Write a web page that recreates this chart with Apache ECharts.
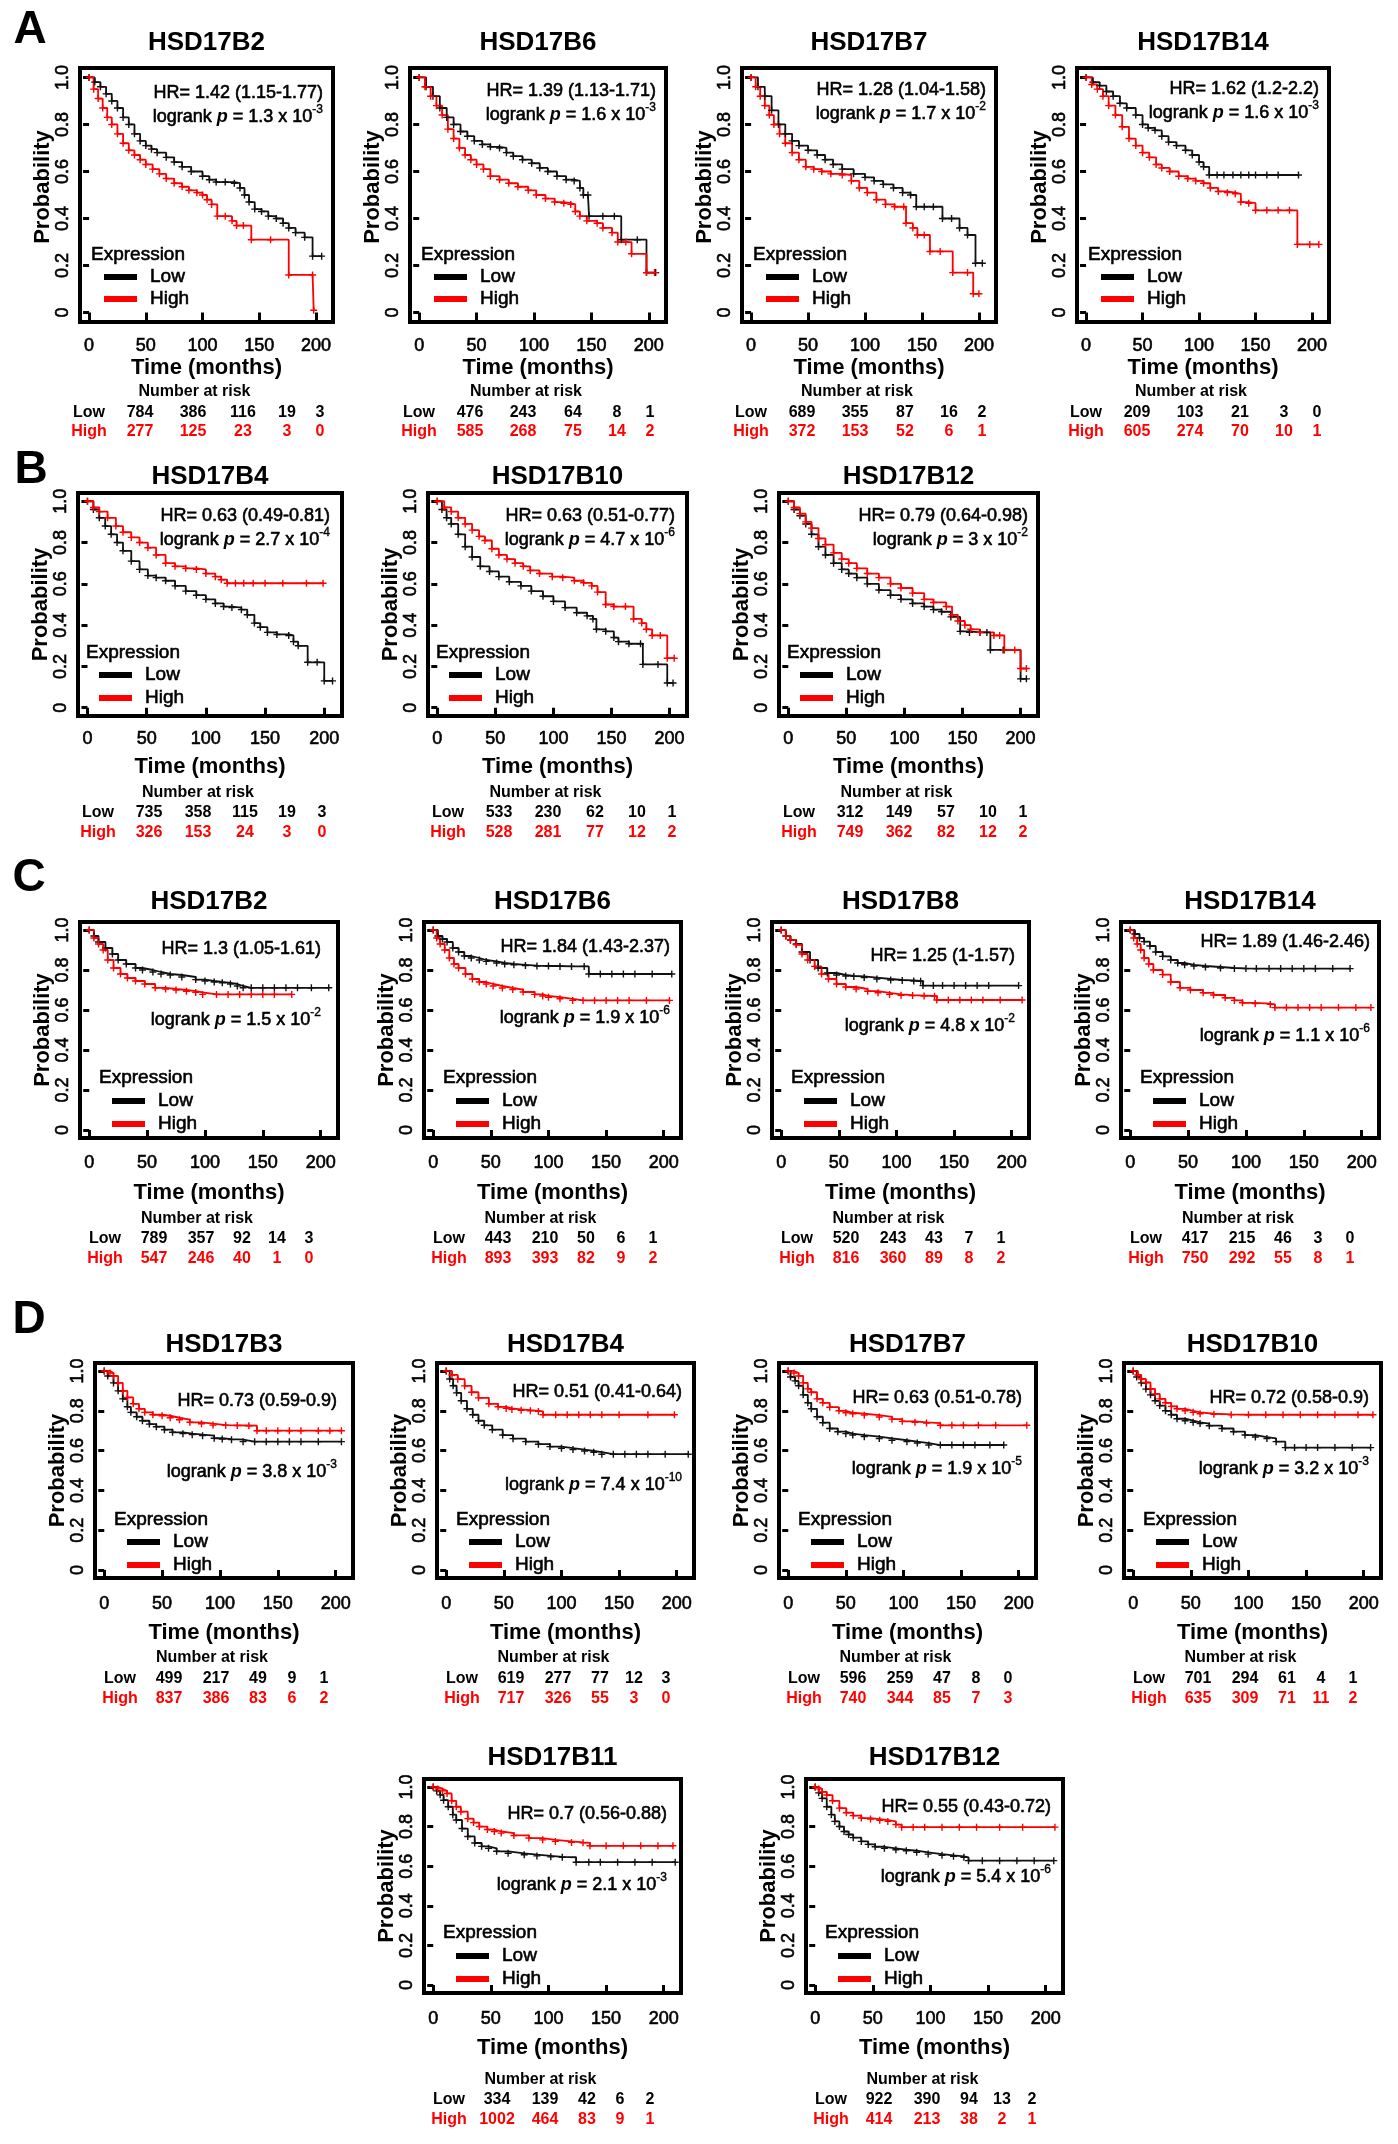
<!DOCTYPE html>
<html>
<head>
<meta charset="utf-8">
<title>HSD17B survival curves</title>
<script src="https://cdn.jsdelivr.net/npm/echarts@6/dist/echarts.min.js"></script>
<style>
  body { margin: 0; background: #fff; }
  #main { width: 1398px; height: 2144px; }
</style>
</head>
<body>
<div id="main"></div>
<script>
// ---- data ----
var titles = ['HSD17B2','HSD17B6','HSD17B7','HSD17B14','HSD17B4','HSD17B10','HSD17B12',
              'HSD17B2','HSD17B6','HSD17B8','HSD17B14','HSD17B3','HSD17B4','HSD17B7','HSD17B10',
              'HSD17B11','HSD17B12'];
var hrTexts = ['1.42 (1.15-1.77)','1.39 (1.13-1.71)','1.28 (1.04-1.58)','1.62 (1.2-2.2)',
               '0.63 (0.49-0.81)','0.63 (0.51-0.77)','0.79 (0.64-0.98)',
               '1.3 (1.05-1.61)','1.84 (1.43-2.37)','1.25 (1-1.57)','1.89 (1.46-2.46)',
               '0.73 (0.59-0.9)','0.51 (0.41-0.64)','0.63 (0.51-0.78)','0.72 (0.58-0.9)',
               '0.7 (0.56-0.88)','0.55 (0.43-0.72)'];
var pMant = ['1.3','1.6','1.7','1.6','2.7','4.7','3','1.5','1.9','4.8','1.1','3.8','7.4','1.9','3.2','2.1','5.4'];
var pExp = ['-3','-3','-2','-3','-4','-6','-2','-2','-6','-2','-6','-3','-10','-5','-3','-3','-6'];
var riskLow = [[784,386,116,19,3],[476,243,64,8,1],[689,355,87,16,2],[209,103,21,3,0],
               [735,358,115,19,3],[533,230,62,10,1],[312,149,57,10,1],
               [789,357,92,14,3],[443,210,50,6,1],[520,243,43,7,1],[417,215,46,3,0],
               [499,217,49,9,1],[619,277,77,12,3],[596,259,47,8,0],[701,294,61,4,1],
               [334,139,42,6,2],[922,390,94,13,2]];
var riskHigh = [[277,125,23,3,0],[585,268,75,14,2],[372,153,52,6,1],[605,274,70,10,1],
                [326,153,24,3,0],[528,281,77,12,2],[749,362,82,12,2],
                [547,246,40,1,0],[893,393,82,9,2],[816,360,89,8,2],[750,292,55,8,1],
                [837,386,83,6,2],[717,326,55,3,0],[740,344,85,7,3],[635,309,71,11,2],
                [1002,464,83,9,1],[414,213,38,2,1]];
var xTicks = [0, 50, 100, 150, 200];
var yTicks = [0, 0.2, 0.4, 0.6, 0.8, 1.0];

// survival curves [months, probability]
var a1Low = [[0,1],[5,0.98],[10,0.96],[15,0.93],[20,0.9],[25,0.87],[30,0.83],[35,0.8],[40,0.76],[45,0.73],[50,0.71],[55,0.695],[60,0.68],[68,0.66],[75,0.64],[82,0.62],[90,0.6],[100,0.58],[106,0.565],[112,0.555],[120,0.555],[128,0.55],[133,0.53],[137,0.5],[141,0.47],[146,0.44],[152,0.43],[158,0.41],[165,0.4],[171,0.38],[176,0.36],[182,0.34],[190,0.32],[197,0.24],[205,0.24]];
var a1High = [[0,1],[4,0.95],[8,0.91],[12,0.87],[16,0.83],[20,0.8],[25,0.76],[30,0.72],[35,0.69],[40,0.67],[45,0.65],[50,0.63],[56,0.61],[62,0.59],[68,0.57],[75,0.55],[82,0.535],[88,0.52],[95,0.51],[100,0.5],[104,0.48],[108,0.46],[113,0.41],[120,0.41],[126,0.39],[130,0.37],[136,0.37],[143,0.31],[160,0.31],[176,0.16],[197,0.16],[198,0.01]];
var a2Low = [[0,1],[6,0.96],[12,0.92],[18,0.87],[24,0.83],[30,0.8],[36,0.77],[42,0.75],[48,0.73],[55,0.715],[62,0.705],[70,0.7],[76,0.68],[82,0.665],[90,0.65],[98,0.635],[105,0.615],[112,0.6],[120,0.58],[128,0.565],[135,0.56],[140,0.53],[143,0.5],[147,0.5],[148,0.41],[160,0.41],[170,0.41],[176,0.31],[190,0.31],[198,0.17],[206,0.17]];
var a2High = [[0,1],[5,0.96],[10,0.92],[15,0.88],[20,0.84],[25,0.78],[30,0.74],[35,0.7],[40,0.67],[45,0.65],[50,0.63],[56,0.61],[62,0.58],[70,0.565],[78,0.55],[86,0.535],[95,0.52],[102,0.5],[110,0.485],[118,0.47],[126,0.465],[132,0.46],[136,0.43],[140,0.41],[146,0.39],[155,0.38],[160,0.36],[168,0.34],[173,0.3],[180,0.3],[185,0.25],[198,0.17],[205,0.17]];
var a3Low = [[0,1],[6,0.96],[12,0.92],[18,0.86],[24,0.8],[30,0.76],[36,0.73],[42,0.71],[50,0.69],[58,0.67],[65,0.65],[72,0.63],[80,0.61],[90,0.59],[100,0.575],[108,0.56],[116,0.545],[125,0.53],[133,0.51],[140,0.5],[145,0.45],[152,0.45],[160,0.45],[168,0.4],[176,0.4],[183,0.36],[190,0.33],[197,0.21],[203,0.21]];
var a3High = [[0,1],[4,0.96],[8,0.92],[12,0.88],[16,0.84],[20,0.8],[25,0.76],[30,0.72],[36,0.68],[42,0.65],[48,0.62],[55,0.61],[62,0.6],[70,0.59],[80,0.585],[88,0.56],[95,0.53],[102,0.51],[110,0.48],[118,0.46],[126,0.45],[134,0.45],[136,0.38],[142,0.36],[146,0.33],[152,0.33],[157,0.26],[166,0.26],[177,0.17],[190,0.17],[195,0.08],[200,0.08]];
var a4Low = [[0,1],[6,0.98],[12,0.965],[18,0.94],[24,0.92],[30,0.89],[36,0.87],[44,0.84],[50,0.8],[55,0.785],[61,0.775],[67,0.75],[73,0.725],[80,0.71],[88,0.69],[94,0.67],[100,0.64],[104,0.62],[109,0.585],[116,0.585],[122,0.585],[130,0.585],[137,0.585],[144,0.585],[150,0.585],[160,0.585],[170,0.585],[188,0.585]];
var a4High = [[0,1],[5,0.97],[10,0.95],[15,0.92],[20,0.88],[26,0.84],[32,0.79],[38,0.74],[44,0.71],[50,0.68],[56,0.66],[62,0.63],[67,0.615],[74,0.6],[82,0.58],[90,0.57],[97,0.56],[104,0.55],[110,0.53],[117,0.515],[125,0.51],[132,0.505],[137,0.47],[144,0.465],[150,0.435],[160,0.435],[170,0.435],[180,0.435],[187,0.29],[198,0.29],[206,0.29]];
var b1Low = [[0,1],[5,0.96],[10,0.92],[15,0.88],[20,0.84],[25,0.8],[30,0.76],[37,0.71],[44,0.67],[51,0.64],[58,0.63],[66,0.615],[74,0.59],[83,0.565],[92,0.545],[100,0.525],[108,0.505],[115,0.49],[122,0.485],[130,0.475],[135,0.45],[141,0.41],[146,0.39],[152,0.365],[160,0.355],[170,0.35],[174,0.32],[178,0.3],[186,0.22],[194,0.22],[200,0.13],[207,0.13]];
var b1High = [[0,1],[5,0.97],[10,0.95],[17,0.92],[24,0.88],[30,0.85],[37,0.825],[44,0.8],[51,0.775],[58,0.74],[66,0.7],[74,0.685],[83,0.675],[92,0.67],[100,0.65],[108,0.635],[113,0.62],[118,0.603],[125,0.603],[132,0.603],[140,0.603],[150,0.603],[165,0.603],[185,0.603],[199,0.603]];
var b2Low = [[0,1],[4,0.96],[8,0.92],[12,0.89],[18,0.84],[24,0.78],[30,0.73],[37,0.685],[45,0.66],[53,0.635],[62,0.61],[72,0.59],[81,0.565],[91,0.54],[100,0.515],[110,0.485],[120,0.46],[129,0.445],[134,0.43],[137,0.38],[145,0.37],[152,0.34],[156,0.32],[165,0.31],[175,0.31],[177,0.21],[190,0.21],[198,0.12],[203,0.12]];
var b2High = [[0,1],[6,0.97],[12,0.95],[18,0.92],[24,0.89],[30,0.86],[36,0.83],[41,0.81],[47,0.77],[53,0.74],[60,0.72],[67,0.7],[74,0.685],[80,0.665],[88,0.65],[99,0.635],[108,0.63],[118,0.615],[126,0.605],[133,0.59],[138,0.56],[145,0.5],[152,0.49],[162,0.49],[169,0.43],[176,0.41],[180,0.38],[185,0.35],[192,0.35],[198,0.24],[204,0.24]];
var b3Low = [[0,1],[5,0.96],[10,0.93],[15,0.89],[20,0.84],[26,0.78],[32,0.74],[39,0.7],[46,0.67],[52,0.65],[59,0.63],[68,0.6],[78,0.57],[88,0.545],[97,0.525],[107,0.505],[117,0.49],[125,0.475],[132,0.465],[140,0.44],[148,0.37],[156,0.365],[165,0.365],[171,0.365],[174,0.28],[185,0.28],[200,0.14],[205,0.14]];
var b3High = [[0,1],[5,0.97],[10,0.94],[15,0.9],[20,0.87],[26,0.82],[32,0.79],[39,0.75],[46,0.72],[52,0.7],[59,0.675],[68,0.65],[78,0.63],[88,0.6],[97,0.58],[107,0.555],[117,0.525],[125,0.51],[136,0.49],[141,0.45],[146,0.42],[152,0.4],[157,0.38],[165,0.365],[177,0.35],[182,0.35],[186,0.28],[195,0.28],[200,0.19],[205,0.19]];
var c1Low = [[0,1],[4,0.97],[8,0.94],[14,0.91],[20,0.88],[25,0.85],[32,0.83],[40,0.81],[46,0.8],[55,0.79],[62,0.78],[70,0.775],[80,0.765],[92,0.752],[100,0.745],[108,0.74],[115,0.736],[122,0.73],[128,0.72],[133,0.711],[140,0.711],[150,0.711],[160,0.711],[170,0.711],[180,0.711],[192,0.711],[207,0.711]];
var c1High = [[0,1],[4,0.96],[8,0.93],[12,0.9],[16,0.85],[21,0.81],[27,0.78],[33,0.76],[40,0.745],[48,0.73],[57,0.711],[66,0.705],[75,0.7],[84,0.694],[92,0.688],[98,0.678],[110,0.678],[120,0.678],[130,0.678],[140,0.678],[150,0.678],[160,0.678],[175,0.678]];
var c2Low = [[0,1],[4,0.97],[8,0.955],[12,0.94],[17,0.91],[22,0.89],[27,0.87],[33,0.86],[40,0.85],[46,0.843],[55,0.835],[62,0.83],[70,0.826],[80,0.822],[90,0.82],[100,0.82],[110,0.818],[120,0.818],[131,0.818],[135,0.78],[145,0.78],[155,0.78],[165,0.78],[175,0.78],[190,0.78],[207,0.78]];
var c2High = [[0,1],[3,0.96],[6,0.93],[10,0.9],[14,0.86],[18,0.83],[22,0.81],[28,0.78],[34,0.755],[40,0.74],[46,0.73],[52,0.72],[60,0.71],[69,0.702],[78,0.69],[88,0.678],[95,0.67],[100,0.664],[110,0.656],[121,0.648],[130,0.648],[140,0.648],[150,0.648],[160,0.648],[170,0.648],[185,0.648],[205,0.648]];
var c3Low = [[0,1],[4,0.97],[8,0.95],[13,0.93],[18,0.89],[25,0.85],[32,0.81],[40,0.785],[48,0.775],[56,0.77],[63,0.768],[72,0.762],[83,0.755],[95,0.75],[105,0.748],[115,0.745],[121,0.744],[123,0.722],[132,0.722],[140,0.722],[150,0.722],[160,0.722],[170,0.722],[180,0.722],[206,0.722]];
var c3High = [[0,1],[4,0.97],[8,0.95],[13,0.926],[18,0.88],[23,0.85],[29,0.818],[35,0.78],[41,0.755],[48,0.73],[56,0.715],[65,0.705],[75,0.694],[84,0.686],[94,0.678],[104,0.674],[114,0.672],[124,0.67],[133,0.669],[135,0.65],[145,0.65],[155,0.65],[165,0.65],[175,0.65],[190,0.65],[209,0.65]];
var c4Low = [[0,1],[4,0.98],[8,0.96],[12,0.942],[17,0.92],[22,0.89],[28,0.868],[35,0.85],[41,0.835],[47,0.826],[55,0.82],[65,0.815],[78,0.81],[90,0.808],[100,0.807],[109,0.807],[120,0.807],[130,0.807],[140,0.807],[150,0.807],[160,0.807],[175,0.807],[190,0.807]];
var c4High = [[0,1],[3,0.96],[6,0.93],[9,0.9],[12,0.86],[16,0.83],[20,0.8],[28,0.777],[35,0.74],[43,0.711],[52,0.7],[63,0.686],[72,0.675],[82,0.661],[90,0.648],[97,0.636],[108,0.632],[121,0.628],[125,0.612],[135,0.612],[145,0.612],[155,0.612],[165,0.612],[180,0.612],[195,0.612],[208,0.612]];
var d1Low = [[0,1],[3,0.975],[8,0.94],[12,0.9],[16,0.86],[20,0.82],[23,0.792],[28,0.77],[33,0.75],[39,0.733],[45,0.72],[52,0.705],[59,0.692],[68,0.685],[76,0.68],[85,0.675],[95,0.662],[102,0.658],[110,0.655],[120,0.645],[130,0.645],[140,0.645],[150,0.645],[160,0.645],[170,0.645],[185,0.645],[205,0.645]];
var d1High = [[0,1],[5,0.99],[8,0.975],[12,0.94],[16,0.9],[20,0.867],[25,0.835],[30,0.81],[35,0.792],[42,0.78],[50,0.775],[57,0.765],[65,0.755],[74,0.742],[84,0.735],[94,0.728],[105,0.727],[115,0.726],[125,0.725],[132,0.7],[140,0.7],[150,0.7],[160,0.7],[170,0.7],[185,0.7],[195,0.7],[205,0.7]];
var d2Low = [[0,1],[3,0.96],[6,0.926],[9,0.89],[13,0.85],[18,0.81],[23,0.78],[28,0.75],[33,0.727],[40,0.705],[49,0.678],[58,0.66],[69,0.645],[80,0.632],[90,0.62],[100,0.612],[110,0.605],[120,0.598],[128,0.592],[135,0.582],[145,0.582],[155,0.582],[165,0.582],[175,0.582],[190,0.582],[210,0.582]];
var d2High = [[0,1],[5,0.98],[10,0.959],[16,0.925],[22,0.893],[28,0.865],[37,0.835],[45,0.82],[52,0.812],[57,0.807],[65,0.803],[73,0.8],[80,0.797],[84,0.78],[95,0.78],[105,0.78],[115,0.78],[125,0.78],[135,0.78],[150,0.78],[175,0.78],[198,0.78]];
var d3Low = [[0,1],[2,0.97],[6,0.95],[9,0.926],[13,0.88],[17,0.84],[20,0.81],[25,0.77],[30,0.74],[36,0.711],[43,0.695],[50,0.685],[56,0.678],[66,0.67],[79,0.661],[90,0.652],[103,0.645],[112,0.638],[122,0.628],[132,0.628],[142,0.628],[152,0.628],[162,0.628],[175,0.628],[187,0.628]];
var d3High = [[0,1],[5,0.99],[9,0.975],[13,0.94],[17,0.91],[20,0.893],[25,0.86],[30,0.84],[36,0.818],[44,0.8],[50,0.79],[56,0.785],[66,0.778],[79,0.769],[90,0.758],[99,0.747],[110,0.742],[120,0.738],[132,0.727],[142,0.727],[152,0.727],[165,0.727],[180,0.727],[207,0.727]];
var d4Low = [[0,1],[3,0.97],[7,0.94],[11,0.909],[15,0.88],[19,0.85],[23,0.826],[28,0.8],[33,0.78],[38,0.76],[45,0.75],[52,0.742],[58,0.736],[66,0.725],[77,0.711],[87,0.695],[97,0.678],[106,0.668],[116,0.661],[124,0.645],[132,0.615],[140,0.615],[150,0.615],[160,0.615],[175,0.615],[190,0.615],[206,0.615]];
var d4High = [[0,1],[4,0.98],[7,0.96],[11,0.942],[15,0.91],[19,0.885],[23,0.86],[28,0.84],[33,0.822],[38,0.81],[45,0.8],[52,0.792],[58,0.785],[70,0.782],[85,0.78],[100,0.78],[115,0.78],[130,0.78],[145,0.78],[160,0.78],[175,0.78],[195,0.78],[208,0.78]];
var e1Low = [[0,1],[3,0.98],[6,0.96],[9,0.933],[13,0.9],[17,0.86],[20,0.833],[25,0.79],[30,0.75],[36,0.717],[42,0.7],[48,0.69],[55,0.675],[65,0.665],[79,0.658],[90,0.652],[102,0.647],[112,0.645],[124,0.62],[135,0.62],[145,0.62],[160,0.62],[175,0.62],[190,0.62],[210,0.62]];
var e1High = [[0,1],[4,0.99],[8,0.98],[12,0.967],[16,0.93],[20,0.9],[24,0.875],[30,0.84],[35,0.82],[40,0.8],[47,0.785],[53,0.775],[59,0.767],[70,0.755],[83,0.742],[95,0.733],[106,0.725],[120,0.72],[130,0.718],[136,0.703],[150,0.703],[165,0.703],[180,0.703],[195,0.703],[208,0.703]];
var e2Low = [[0,1],[3,0.97],[6,0.942],[10,0.9],[14,0.86],[17,0.826],[21,0.8],[25,0.775],[29,0.76],[33,0.744],[40,0.725],[46,0.71],[52,0.698],[60,0.69],[70,0.683],[79,0.678],[88,0.67],[98,0.661],[110,0.655],[120,0.65],[129,0.645],[133,0.628],[145,0.628],[160,0.628],[175,0.628],[190,0.628],[207,0.628]];
var e2High = [[0,1],[3,0.99],[6,0.975],[10,0.959],[15,0.93],[21,0.893],[27,0.87],[33,0.855],[40,0.843],[48,0.838],[56,0.832],[63,0.826],[70,0.81],[75,0.797],[85,0.797],[95,0.797],[110,0.797],[125,0.797],[140,0.797],[160,0.797],[180,0.797],[208,0.797]];

var lowCurves = [a1Low,a2Low,a3Low,a4Low,b1Low,b2Low,b3Low,c1Low,c2Low,c3Low,c4Low,d1Low,d2Low,d3Low,d4Low,e1Low,e2Low];
var highCurves = [a1High,a2High,a3High,a4High,b1High,b2High,b3High,c1High,c2High,c3High,c4High,d1High,d2High,d3High,d4High,e1High,e2High];

// ---- layout (pixels) ----
var rows = {
  A: {top: 68,   bottom: 322,  titleY: 43,   legDx: 11, legDy: [-67,-45,-23], labMargin: 15, timeDy: 46, riskDy: [70,91,110],  riskLab: 9,  riskDx: [60,113,163,207,240], probDy: -8},
  B: {top: 493,  bottom: 716,  titleY: 477,  legDx: 8,  legDy: [-63,-41,-18], labMargin: 14, timeDy: 51, riskDy: [77,97,117],  riskLab: 20, riskDx: [71,120,167,209,244], probDy: 0},
  C: {top: 922,  bottom: 1138, titleY: 902,  legDx: 19, legDy: [-60,-37,-14], labMargin: 16, timeDy: 55, riskDy: [81,101,121], riskLab: 25, riskDx: [74,121,162,197,229], probDy: 0},
  D: {top: 1363, bottom: 1578, titleY: 1345, legDx: 19, legDy: [-58,-36,-13], labMargin: 17, timeDy: 55, riskDy: [80,101,121], riskLab: 25, riskDx: [74,121,163,197,229], probDy: 0},
  E: {top: 1779, bottom: 1993, titleY: 1758, legDx: 19, legDy: [-60,-37,-14], labMargin: 17, timeDy: 55, riskDy: [87,107,127], riskLab: 25, riskDx: [73,121,163,196,226], probDy: 0}
};
// box left/right, HR and logrank line centres
var panels = [
  {row: 'A', l: 80,   r: 333,  hr: 93,   lr: 115,  hrDx: 10},
  {row: 'A', l: 410,  r: 666,  hr: 91,   lr: 113,  hrDx: 10},
  {row: 'A', l: 742,  r: 996,  hr: 90,   lr: 112,  hrDx: 10},
  {row: 'A', l: 1077, r: 1329, hr: 89,   lr: 111,  hrDx: 10},
  {row: 'B', l: 78,   r: 342,  hr: 516,  lr: 538,  hrDx: 12},
  {row: 'B', l: 428,  r: 687,  hr: 516,  lr: 538,  hrDx: 12},
  {row: 'B', l: 779,  r: 1038, hr: 516,  lr: 538,  hrDx: 10},
  {row: 'C', l: 80,   r: 338,  hr: 949,  lr: 1018, hrDx: 17},
  {row: 'C', l: 424,  r: 681,  hr: 947,  lr: 1016, hrDx: 11},
  {row: 'C', l: 772,  r: 1029, hr: 956,  lr: 1024, hrDx: 14},
  {row: 'C', l: 1121, r: 1379, hr: 942,  lr: 1034, hrDx: 9},
  {row: 'D', l: 95,   r: 353,  hr: 1401, lr: 1470, hrDx: 16},
  {row: 'D', l: 437,  r: 694,  hr: 1392, lr: 1483, hrDx: 12},
  {row: 'D', l: 779,  r: 1036, hr: 1398, lr: 1467, hrDx: 14},
  {row: 'D', l: 1124, r: 1381, hr: 1398, lr: 1467, hrDx: 12},
  {row: 'E', l: 424,  r: 681,  hr: 1814, lr: 1883, hrDx: 14},
  {row: 'E', l: 806,  r: 1063, hr: 1807, lr: 1875, hrDx: 12}
];
var letters = [['A', 30, 30], ['B', 31, 470], ['C', 29, 878], ['D', 29, 1320]];

var FONT = '"Liberation Sans", Arial, Helvetica, sans-serif';
var RED = '#ff0000';
var PLUS = 'path://M4,0H6V4H10V6H6V10H4V6H0V4H4Z';

// normal-weight text gets a thin outline so it reads as heavy as the scanned figure
function txt(x, y, text, size, weight, color, align, extra) {
  var w = weight || 'normal';
  var el = {
    type: 'text', x: x, y: y, silent: true,
    style: {text: text, fontSize: size, fontWeight: w, fontFamily: FONT,
            fill: color || '#000', align: align || 'center', verticalAlign: 'middle',
            stroke: color || '#000', lineWidth: w === 'normal' ? 0.6 : 0}
  };
  if (extra) { for (var k in extra) el[k] = extra[k]; }
  return el;
}

var chart = echarts.init(document.getElementById('main'), null, {renderer: 'canvas'});
var grids = [], xAxes = [], yAxes = [], series = [], graphics = [];

letters.forEach(function (L) {
  graphics.push(txt(L[1], L[2], L[0], 46, 'bold'));
});

panels.forEach(function (p, i) {
  var row = rows[p.row];
  var cx = (p.l + p.r) / 2;
  grids.push({left: p.l, top: row.top, width: p.r - p.l, height: row.bottom - row.top,
              show: true, borderColor: '#000', borderWidth: 4, backgroundColor: 'transparent'});
  xAxes.push({
    type: 'value', gridIndex: i, min: -8, max: 215,
    axisLine: {show: false}, splitLine: {show: false},
    axisTick: {show: true, customValues: xTicks, length: 8, lineStyle: {color: '#000', width: 3}},
    axisLabel: {customValues: xTicks, margin: row.labMargin, fontSize: 18, color: '#000', fontFamily: FONT,
                textBorderColor: '#000', textBorderWidth: 0.6}
  });
  yAxes.push({
    type: 'value', gridIndex: i, min: -0.04, max: 1.04,
    axisLine: {show: false}, splitLine: {show: false},
    axisTick: {show: true, customValues: yTicks, length: 6, lineStyle: {color: '#000', width: 3}},
    axisLabel: {customValues: yTicks, margin: 8, rotate: 90, fontSize: 18, color: '#000', fontFamily: FONT,
                textBorderColor: '#000', textBorderWidth: 0.6,
                formatter: function (v) { return v === 0 ? '0' : v.toFixed(1); }}
  });
  [[lowCurves[i], '#111', 'Low'], [highCurves[i], RED, 'High']].forEach(function (c) {
    series.push({
      type: 'line', name: c[2], xAxisIndex: i, yAxisIndex: i, data: c[0],
      step: 'end', symbol: PLUS, symbolSize: 7, showSymbol: true, showAllSymbol: true,
      lineStyle: {color: c[1], width: 1.8}, itemStyle: {color: c[1]},
      silent: true, animation: false
    });
  });

  // title and axis names
  graphics.push(txt(cx, row.titleY, titles[i], 26, 'bold'));
  graphics.push(txt(cx, row.bottom + row.timeDy, 'Time (months)', 22, 'bold'));
  graphics.push(txt(p.l - 37, (row.top + row.bottom) / 2 + row.probDy, 'Probability', 22, 'bold', '#000', 'center',
                    {rotation: Math.PI / 2}));

  // HR and logrank
  var rx = p.r - p.hrDx;
  graphics.push(txt(rx, p.hr, 'HR= ' + hrTexts[i], 18, 'normal', '#000', 'right'));
  graphics.push({
    type: 'text', x: rx, y: p.lr, silent: true,
    style: {
      text: '{n|logrank }{i|p}{n| = ' + pMant[i] + ' x 10}{s|' + pExp[i] + '}',
      align: 'right', verticalAlign: 'middle', fontFamily: FONT, fontSize: 18, fill: '#000',
      rich: {
        n: {fontSize: 18, fontFamily: FONT, fill: '#000', stroke: '#000', lineWidth: 0.6,
            lineHeight: 22, verticalAlign: 'bottom'},
        i: {fontSize: 18, fontFamily: FONT, fill: '#000', fontStyle: 'italic', fontWeight: 'bold',
            lineHeight: 22, verticalAlign: 'bottom'},
        s: {fontSize: 12, fontFamily: FONT, fill: '#000', stroke: '#000', lineWidth: 0.4,
            lineHeight: 22, verticalAlign: 'top'}
      }
    }
  });

  // legend
  var lx = p.l + row.legDx;
  graphics.push(txt(lx, row.bottom + row.legDy[0], 'Expression', 19, 'normal', '#000', 'left'));
  [['Low', '#000', row.legDy[1]], ['High', RED, row.legDy[2]]].forEach(function (g) {
    var y = row.bottom + g[2];
    graphics.push({type: 'line', silent: true, shape: {x1: lx + 13, y1: y, x2: lx + 46, y2: y},
                   style: {stroke: g[1], lineWidth: 6}});
    graphics.push(txt(lx + 59, y, g[0], 19, 'normal', '#000', 'left'));
  });

  // number at risk table
  graphics.push(txt(cx - 12, row.bottom + row.riskDy[0], 'Number at risk', 16, 'bold'));
  [['Low', '#000', riskLow[i], row.riskDy[1]], ['High', RED, riskHigh[i], row.riskDy[2]]].forEach(function (rr) {
    var y = row.bottom + rr[3];
    graphics.push(txt(p.l + row.riskLab, y, rr[0], 16, 'bold', rr[1]));
    rr[2].forEach(function (n, k) {
      graphics.push(txt(p.l + row.riskDx[k], y, String(n), 16, 'bold', rr[1]));
    });
  });
});

chart.setOption({
  animation: false,
  backgroundColor: '#fff',
  grid: grids,
  xAxis: xAxes,
  yAxis: yAxes,
  series: series,
  graphic: {elements: graphics}
});
</script>
</body>
</html>
